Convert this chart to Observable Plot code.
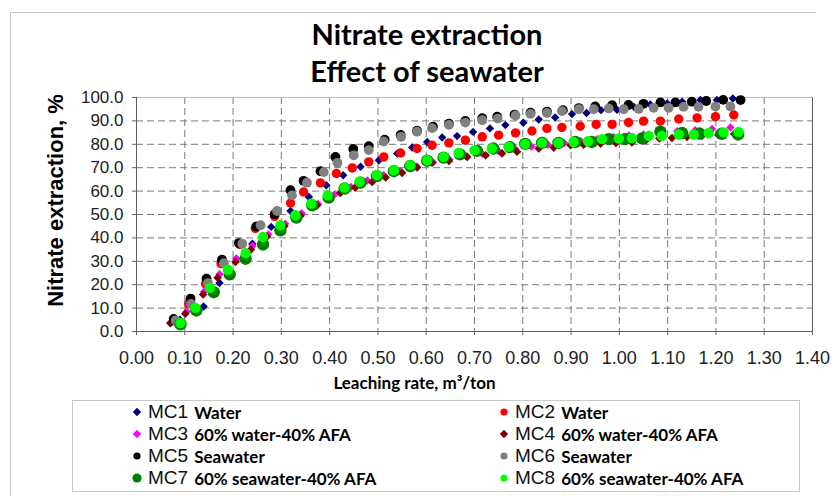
<!DOCTYPE html>
<html>
<head>
<meta charset="utf-8">
<script src="https://cdn.jsdelivr.net/npm/d3@7"></script>
<script src="https://cdn.jsdelivr.net/npm/@observablehq/plot@0.6"></script>
<style>
  body { margin: 0; background: #fff; }
  #wrap { position: relative; width: 840px; height: 496px; overflow: hidden; background: #fff; font-family: "Liberation Sans", Arial, sans-serif; }
  #frame { position: absolute; left: 10px; top: 12px; width: 805px; height: 520px; border-left: 1px solid #c8c8c8; border-top: 1px solid #c8c8c8; }
  #title { position: absolute; left: 0; top: 15px; width: 854px; text-align: center; font-family: Lato, "Open Sans", sans-serif; font-weight: bold; font-size: 29px; line-height: 37px; color: #000; }
  #chart { position: absolute; left: 0; top: 88px; }
  #legend { position: absolute; left: 72px; top: 400px; width: 728px; height: 92px; border: 1px solid #c8c8c8; box-sizing: border-box; }
  .item { position: absolute; height: 22px; display: flex; align-items: center; white-space: nowrap; }
  .item svg { flex: none; }
  .mc { font-family: "Liberation Sans", Arial, sans-serif; font-size: 19px; color: #111; margin-left: 4px; }
  .desc { font-family: Lato, "Open Sans", sans-serif; font-weight: bold; font-size: 17px; color: #000; margin-left: 6px; }
</style>
</head>
<body>
<div id="wrap">
  <div id="frame"></div>
  <div id="title"><div>Nitrate extraction</div><div>Effect of seawater</div></div>
  <div id="chart"></div>
  <div id="legend"></div>
</div>
<script>
// ---- data (leaching rate m3/ton, nitrate extraction %) ----
const seriesNames = ["MC1", "MC2", "MC3", "MC4", "MC5", "MC6", "MC7", "MC8"];
const seriesDescs = ["Water", "Water", "60% water-40% AFA", "60% water-40% AFA", "Seawater", "Seawater", "60% seawater-40% AFA", "60% seawater-40% AFA"];
const xTicks = [0, 0.1, 0.2, 0.3, 0.4, 0.5, 0.6, 0.7, 0.8, 0.9, 1.0, 1.1, 1.2, 1.3, 1.4];
const yTicks = [0, 10, 20, 30, 40, 50, 60, 70, 80, 90, 100];
const xTitle = "Leaching rate, m³/ton";
const yTitle = "Nitrate extraction, %";

const mc1 = [[0.090,5.0],[0.139,10.7],[0.172,20.7],[0.207,31.1],[0.240,37.5],[0.279,44.7],[0.319,51.5],[0.357,57.5],[0.393,62.5],[0.428,66.8],[0.464,70.4],[0.502,73.2],[0.540,76.1],[0.571,78.6],[0.602,81.0],[0.633,82.9],[0.664,83.5],[0.697,85.3],[0.732,86.8],[0.764,88.2],[0.801,89.2],[0.833,90.6],[0.867,91.5],[0.902,92.9],[0.932,93.4],[0.962,94.6],[0.995,94.8],[1.030,96.0],[1.064,97.0],[1.099,97.5],[1.130,98.2],[1.168,98.9],[1.202,98.9],[1.235,99.6]];
const mc2 = [[0.078,4.5],[0.108,11.8],[0.143,20.4],[0.175,29.0],[0.214,37.2],[0.246,44.0],[0.286,49.2],[0.319,54.9],[0.346,59.6],[0.381,63.5],[0.414,67.5],[0.447,69.9],[0.481,72.5],[0.512,74.6],[0.547,76.3],[0.581,78.2],[0.612,79.6],[0.647,80.6],[0.681,81.8],[0.716,83.2],[0.750,83.9],[0.785,84.9],[0.819,85.7],[0.850,86.8],[0.881,87.2],[0.919,87.7],[0.952,88.5],[0.985,88.5],[1.019,89.3],[1.050,89.9],[1.085,89.9],[1.123,90.8],[1.161,91.3],[1.199,91.8],[1.237,92.5]];
const mc3 = [[0.072,3.8],[0.104,8.5],[0.140,17.0],[0.172,24.5],[0.207,31.0],[0.240,36.5],[0.273,41.5],[0.308,46.0],[0.342,50.5],[0.376,54.5],[0.410,58.5],[0.444,61.8],[0.478,64.5],[0.512,66.8],[0.546,68.6],[0.580,70.5],[0.614,72.3],[0.648,73.5],[0.682,75.0],[0.716,76.0],[0.750,77.0],[0.784,78.0],[0.818,79.0],[0.852,79.8],[0.886,80.5],[0.920,81.3],[0.954,82.2],[0.988,83.0],[1.020,83.8],[1.050,84.2],[1.085,84.8],[1.120,85.6],[1.157,86.0],[1.192,86.5],[1.230,87.2]];
const mc4 = [[0.070,3.6],[0.101,7.6],[0.138,15.8],[0.168,23.0],[0.205,29.7],[0.237,35.0],[0.270,40.5],[0.306,45.0],[0.340,49.5],[0.374,53.9],[0.398,56.8],[0.422,59.2],[0.453,61.5],[0.488,63.9],[0.516,65.8],[0.550,67.8],[0.581,70.1],[0.612,72.1],[0.647,72.9],[0.685,74.6],[0.723,75.3],[0.757,76.1],[0.788,76.8],[0.833,78.2],[0.864,78.6],[0.899,79.6],[0.926,79.8],[0.961,80.3],[0.993,80.6],[1.026,80.8],[1.055,81.8],[1.083,82.5],[1.109,82.7],[1.140,83.2],[1.171,83.6],[1.205,84.0],[1.238,84.4]];
const mc5 = [[0.077,5.4],[0.112,14.0],[0.145,22.6],[0.177,30.7],[0.212,37.8],[0.248,44.9],[0.286,50.1],[0.319,60.4],[0.346,64.4],[0.381,68.5],[0.412,74.6],[0.449,78.0],[0.481,79.2],[0.514,82.0],[0.547,84.0],[0.581,85.8],[0.614,87.5],[0.647,88.8],[0.681,90.0],[0.716,91.2],[0.747,91.8],[0.783,92.7],[0.816,93.5],[0.850,94.0],[0.883,94.6],[0.916,95.5],[0.950,96.2],[0.985,96.7],[1.019,96.8],[1.050,97.3],[1.085,97.9],[1.116,97.9],[1.150,98.2],[1.180,98.5],[1.215,99.0],[1.251,98.9]];
const mc6 = [[0.081,4.7],[0.113,11.8],[0.148,20.7],[0.181,29.2],[0.219,37.5],[0.257,45.4],[0.291,51.5],[0.322,58.2],[0.353,63.6],[0.388,68.1],[0.416,72.1],[0.450,75.3],[0.481,77.5],[0.512,81.2],[0.548,83.2],[0.581,85.4],[0.612,86.9],[0.647,88.3],[0.681,89.3],[0.716,90.3],[0.748,91.0],[0.785,92.3],[0.816,93.0],[0.850,93.4],[0.881,94.2],[0.916,95.0],[0.947,95.0],[0.978,95.3],[1.009,95.0],[1.040,95.1],[1.071,95.6],[1.102,95.6],[1.133,96.0],[1.164,96.0],[1.199,96.1],[1.230,96.1]];
const mc7 = [[0.091,3.1],[0.124,9.0],[0.160,16.8],[0.193,24.4],[0.226,31.1],[0.262,37.2],[0.298,43.2],[0.331,48.7],[0.364,53.9],[0.398,57.2],[0.431,61.1],[0.464,63.6],[0.498,66.4],[0.533,68.5],[0.567,70.7],[0.602,73.0],[0.636,74.3],[0.670,75.7],[0.705,77.2],[0.739,78.2],[0.773,78.8],[0.805,80.2],[0.840,80.6],[0.874,80.6],[0.909,81.0],[0.943,81.0],[0.978,82.2],[1.012,82.2],[1.047,82.5],[1.085,85.4],[1.130,84.8],[1.166,84.6],[1.212,84.5],[1.246,84.2]];
const mc8 = [[0.091,3.6],[0.122,10.1],[0.152,18.7],[0.189,26.4],[0.226,33.5],[0.262,40.4],[0.298,45.4],[0.329,49.7],[0.362,54.7],[0.396,58.2],[0.431,61.5],[0.462,64.1],[0.498,66.8],[0.533,68.9],[0.567,71.1],[0.602,73.2],[0.636,74.6],[0.667,76.3],[0.700,77.5],[0.736,78.2],[0.771,78.9],[0.805,80.1],[0.840,80.6],[0.874,80.6],[0.905,81.0],[0.935,81.3],[0.964,82.2],[0.999,82.5],[1.026,82.7],[1.061,83.6],[1.088,83.6],[1.123,84.2],[1.154,84.2],[1.185,84.8],[1.216,85.1],[1.247,85.3]];

const seriesData = [mc1, mc2, mc3, mc4, mc5, mc6, mc7, mc8];
const seriesColors = ["#000080", "#ff0000", "#ff00ff", "#800000", "#000000", "#808080", "#008000", "#00ff00"];
const seriesSymbols = ["diamond2", "circle", "diamond2", "diamond2", "circle", "circle", "circle", "circle"];
const seriesR = [3.8, 4.7, 3.8, 3.9, 4.9, 4.9, 6.2, 5.2];

// ---- chart ----
const dotMarks = seriesData.map((s, i) =>
  Plot.dot(s.map(([x, y]) => ({x, y})), {
    x: "x", y: "y", symbol: seriesSymbols[i], r: seriesR[i],
    fill: seriesColors[i], stroke: "none"
  })
);

const chart = Plot.plot({
  width: 840,
  height: 310,
  marginTop: 9,
  marginBottom: 67,
  marginLeft: 136,
  marginRight: 28,
  style: {fontFamily: "'Liberation Sans', Arial, sans-serif", color: "#222", background: "transparent", overflow: "visible"},
  x: {domain: [0, 1.4]},
  y: {domain: [0, 100]},
  marks: [
    Plot.gridY({ticks: yTicks.slice(1, -1), stroke: "#7a7a7a", strokeOpacity: 1, strokeDasharray: "7,4"}),
    Plot.gridX({ticks: xTicks.slice(1, -1), stroke: "#7a7a7a", strokeOpacity: 1, strokeDasharray: "7,4"}),
    Plot.ruleY([100], {stroke: "#c0c0c0"}),
    Plot.ruleX([1.4], {stroke: "#606060"}),
    Plot.ruleX([0], {stroke: "#606060"}),
    Plot.ruleY([0], {stroke: "#606060"}),
    Plot.axisY({ticks: yTicks, tickFormat: d3.format(".1f"), tickSize: 4, tickPadding: 9, label: null, fontSize: 17, stroke: "#606060", fill: "#222"}),
    Plot.axisX({ticks: xTicks, tickFormat: d3.format(".2f"), tickSize: 4, tickPadding: 16, label: null, fontSize: 18, stroke: "#606060", fill: "#222"}),
    ...dotMarks,
    Plot.text([yTitle], {frameAnchor: "left", textAnchor: "middle", lineAnchor: "middle", dx: -81, dy: -14, rotate: -90, fontSize: 22, fontWeight: "bold", fill: "#000", fontFamily: "'Liberation Sans', Arial, sans-serif"}),
    Plot.text([xTitle], {frameAnchor: "bottom", textAnchor: "middle", lineAnchor: "middle", dx: -60, dy: 52, fontSize: 17, fontWeight: "bold", fill: "#000", fontFamily: "Lato, 'Open Sans', sans-serif"})
  ]
});
document.getElementById("chart").appendChild(chart);

// ---- legend ----
const legend = document.getElementById("legend");
const colX = [136 - 72 - 7, 503 - 72 - 7];
const rowY = [411, 433, 455, 477];
const legendR = [4.2, 3.6, 4.2, 4.2, 3.6, 3.6, 4.6, 3.6];
seriesNames.forEach((name, i) => {
  const col = i % 2, row = Math.floor(i / 2);
  const item = document.createElement("div");
  item.className = "item";
  item.style.left = colX[col] + "px";
  item.style.top = (rowY[row] - 400 - 11) + "px";
  const r = legendR[i];
  const shape = seriesSymbols[i] === "circle"
    ? `<circle cx="7" cy="7" r="${r}" fill="${seriesColors[i]}"/>`
    : `<path d="M7,${7 - r}L${7 + r},7L7,${7 + r}L${7 - r},7Z" fill="${seriesColors[i]}"/>`;
  item.innerHTML = `<svg width="14" height="14" viewBox="0 0 14 14">${shape}</svg><span class="mc">${name}</span><span class="desc">${seriesDescs[i]}</span>`;
  legend.appendChild(item);
});
</script>
</body>
</html>
